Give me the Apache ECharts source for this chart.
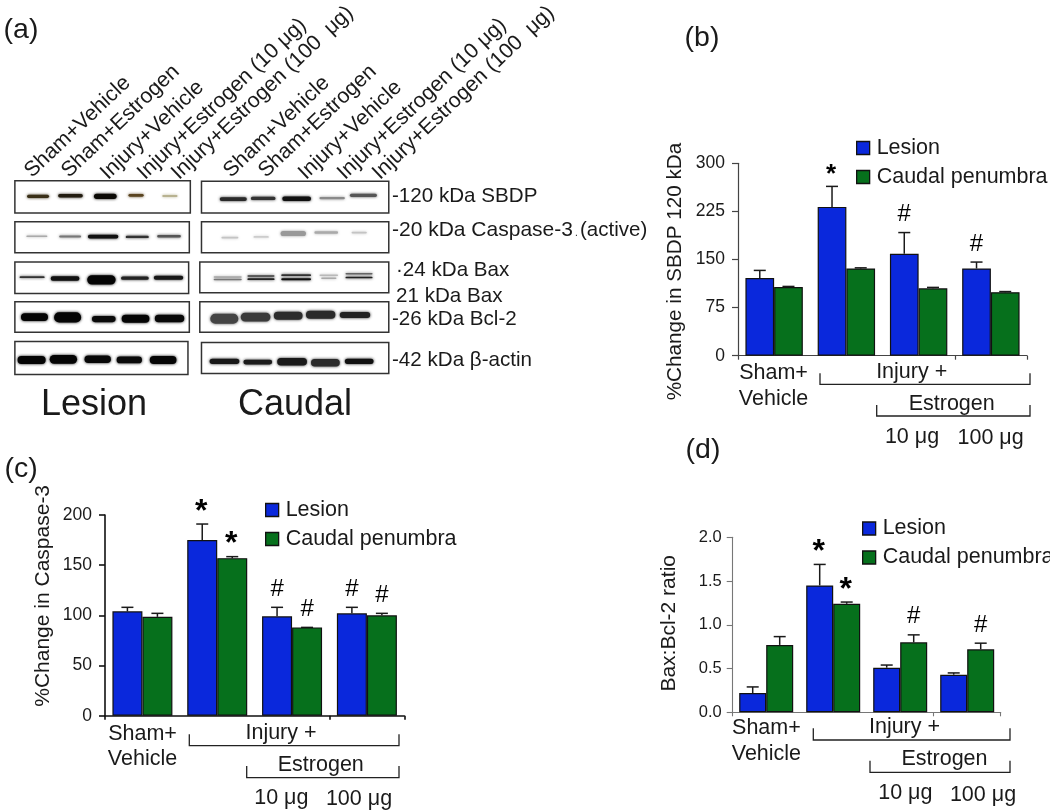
<!DOCTYPE html>
<html><head><meta charset="utf-8">
<script src="https://cdn.jsdelivr.net/npm/echarts@6/dist/echarts.min.js"></script>
<style>html,body{margin:0;background:#fff}#c{width:1050px;height:812px}</style></head>
<body><div id="c"></div>
<script>
const FONT = '"Liberation Sans", Arial, sans-serif';
const seriesNames = ['Lesion', 'Caudal penumbra'];
const groups = ['Sham+Vehicle', 'Injury+Vehicle', 'Injury+Estrogen 10 μg', 'Injury+Estrogen 100 μg'];
const laneLabels = ['Sham+Vehicle', 'Sham+Estrogen', 'Injury+Vehicle', 'Injury+Estrogen (10 μg)', 'Injury+Estrogen (100  μg)'];

// (b) %Change in SBDP 120 kDa
const bLesion = [121, 232, 159, 136];
const bLesionTop = [133, 264, 192, 146];
const bCaudal = [107, 136, 105, 99];
const bCaudalTop = [108, 137, 106.5, 100];
const bLesionMarks = ['', '*', '#', '#'];
const bCaudalMarks = ['', '', '', ''];
// (c) %Change in Caspase-3
const cLesion = [104, 175, 99, 102];
const cLesionTop = [108, 191, 108, 108];
const cCaudal = [98.5, 157, 88, 100];
const cCaudalTop = [102, 158.5, 88, 102];
const cLesionMarks = ['', '*', '#', '#'];
const cCaudalMarks = ['', '*', '#', '#'];
// (d) Bax:Bcl-2 ratio
const dLesion = [0.22, 1.45, 0.51, 0.43];
const dLesionTop = [0.29, 1.69, 0.54, 0.45];
const dCaudal = [0.77, 1.24, 0.80, 0.72];
const dCaudalTop = [0.865, 1.26, 0.885, 0.79];
const dLesionMarks = ['', '*', '', ''];
const dCaudalMarks = ['', '*', '#', '#'];

const BLUE = '#0a28dc', GREEN = '#06701c', INK = '#1a1a1a';

const panels = [
  {grid:{left:738, top:163.3, width:289, height:192.4}, max:300, interval:75, title:'%Change in SBDP 120 kDa', titleSize:20.7, nameGap:52, namePad:[0,24,0,0], tick:17.5, margin:13, barW:28.7, starSize:26,
   le:bLesion, leT:bLesionTop, ca:bCaudal, caT:bCaudalTop, leM:bLesionMarks, caM:bCaudalMarks, legend:[856,137], axis:'#444', axisW:1.2},
  {grid:{left:105, top:515, width:299.3, height:200.7}, max:200, interval:50, title:'%Change in Caspase-3', titleSize:21, nameGap:51, namePad:[0,0,0,39], tick:17.5, margin:13, barW:30, starSize:32,
   le:cLesion, leT:cLesionTop, ca:cCaudal, caT:cCaudalTop, leM:cLesionMarks, caM:cCaudalMarks, legend:[265,499], axis:'#111', axisW:1.6},
  {grid:{left:732.7, top:537.3, width:268, height:175}, max:2, interval:0.5, title:'Bax:Bcl-2 ratio', titleSize:21, nameGap:53, namePad:[0,0,0,3], tick:16.5, margin:11, barW:27, starSize:32, fmt:v=>v.toFixed(1),
   le:dLesion, leT:dLesionTop, ca:dCaudal, caT:dCaudalTop, leM:dLesionMarks, caM:dCaudalMarks, legend:[862,517.5], axis:'#777', axisW:1.1}
];

function errSeries(p, i, values, tops, marks, dir, name) {
  return {
    type:'custom', name, xAxisIndex:i, yAxisIndex:i, z:3, silent:true,
    encode:{x:0, y:2},
    data: values.map((v, k) => [k, v, tops[k], marks[k]]),
    renderItem(params, api) {
      const k = api.value(0);
      const base = api.coord([k, api.value(1)]);
      const top = api.coord([k, api.value(2)]);
      const x = base[0] + dir * p.barW / 2;
      const kids = [];
      if (top[1] < base[1] - 0.5) {
        kids.push({type:'line', shape:{x1:x, y1:base[1], x2:x, y2:top[1]}, style:{stroke:INK, lineWidth:1.5}});
      }
      kids.push({type:'line', shape:{x1:x-6, y1:top[1], x2:x+6, y2:top[1]}, style:{stroke:INK, lineWidth:1.5}});
      const m = marks[k];
      if (m) {
        const star = m === '*';
        kids.push({type:'text', style:{text:m, x: star ? x-1 : x, y: top[1] - (star ? 12 : 18),
          textAlign:'center', textVerticalAlign:'middle', fill:'#000',
          font: star ? `bold ${p.starSize}px ${FONT}` : `24px ${FONT}`}});
      }
      return {type:'group', children:kids};
    }
  };
}

const series = [], grids = [], xAxes = [], yAxes = [], legends = [];
panels.forEach((p, i) => {
  grids.push(p.grid);
  xAxes.push({type:'category', gridIndex:i, data:groups, axisLabel:{show:false},
    axisLine:{lineStyle:{color:p.axis, width:p.axisW}}, axisTick:{show:true, length:4, lineStyle:{color:p.axis, width:p.axisW}}});
  yAxes.push({type:'value', gridIndex:i, min:0, max:p.max, interval:p.interval, splitLine:{show:false},
    name:p.title, nameLocation:'middle', nameGap:p.nameGap, nameRotate:90,
    nameTextStyle:{fontFamily:FONT, fontSize:p.titleSize, color:INK, padding:p.namePad},
    axisLine:{show:true, lineStyle:{color:p.axis, width:p.axisW}},
    axisTick:{show:true, length:6, lineStyle:{color:p.axis, width:p.axisW}},
    axisLabel:{fontFamily:FONT, fontSize:p.tick, color:INK, margin:p.margin, formatter:p.fmt || (v=>String(v))}});
  const barStyle = c => ({color:c, borderColor:'#111', borderWidth:1.2});
  series.push({type:'bar', name:seriesNames[0], xAxisIndex:i, yAxisIndex:i, data:p.le, barWidth:p.barW, barGap:0, itemStyle:barStyle(BLUE), z:4, silent:true});
  series.push({type:'bar', name:seriesNames[1], xAxisIndex:i, yAxisIndex:i, data:p.ca, barWidth:p.barW, barGap:0, itemStyle:barStyle(GREEN), z:4, silent:true});
  series.push(errSeries(p, i, p.le, p.leT, p.leM, -1, 'err-l' + i));
  series.push(errSeries(p, i, p.ca, p.caT, p.caM, 1, 'err-c' + i));
  legends.push({orient:'vertical', left:p.legend[0], top:p.legend[1], padding:0, itemWidth:13, itemHeight:13, itemGap:7,
    selectedMode:false, data:seriesNames, icon:'rect', itemStyle:{borderColor:'#111', borderWidth:1.3},
    textStyle:{fontFamily:FONT, fontSize:21.5, color:INK, lineHeight:22, padding:[0,0,0,2]}});
});

// ---- decoration: text, brackets, blot picture ----
const g = [];
const txt = (text, x, y, size, extra) => g.push({type:'text', x, y, silent:true, ...(extra||{}),
  style:{text, fontFamily:FONT, fontSize:size, fill:INK, textAlign:'center', textVerticalAlign:'middle', ...((extra&&extra.style)||{})}});
const bracket = (x1, x2, y1, y2) => g.push({type:'polyline', silent:true,
  shape:{points:[[x1,y1],[x1,y2],[x2,y2],[x2,y1]]}, style:{stroke:'#222', lineWidth:1.3, fill:null}});

txt('(a)', 21, 30, 28.5); txt('(b)', 702, 38, 28.5); txt('(c)', 21, 469, 28.5); txt('(d)', 703, 450, 28.5);

[[773.5,373,398.7, 911.7,371.7, 820,1030,373.3,384.3, 951.7,404, 876.7,405,416, 912,436.7, 990.6,438.3],
 [142.5,734.3,759.3, 281,732.7, 189.3,399,734.3,745.7, 320.8,765, 246.7,766,777.7, 281.3,797.7, 359,799.3],
 [766.4,728.3,754.3, 904.5,727.3, 813.3,1010,728.3,740, 944.5,759.3, 870,760.7,772.3, 905.3,793.3, 983,795]
].forEach(a => {
  txt('Sham+', a[0], a[1], 21.5); txt('Vehicle', a[0], a[2], 21.5);
  txt('Injury +', a[3], a[4], 21.5);
  bracket(a[5], a[6], a[7], a[8]);
  txt('Estrogen', a[9], a[10], 21.5);
  bracket(a[11], a[6], a[12], a[13]);
  txt('10 μg', a[14], a[15], 21.5); txt('100 μg', a[16], a[17], 21.5);
});

// lane labels
[[28,174],[65,174],[104,176],[141,176],[175,176],[227,174],[262,174],[302,176],[341,176],[376,176]].forEach((p, i) => {
  g.push({type:'text', x:p[0], y:p[1], rotation:Math.PI*43.5/180, silent:true,
    style:{text:laneLabels[i%5], fontFamily:FONT, fontSize:21.3, fill:INK, textAlign:'left', textVerticalAlign:'middle'}});
});

// blot frames: crop coordinates of the reference panel
const SC = 2.958;
const Z = (x, y) => [x/SC, 170 + y/SC];
[[44,563,32,127],[596,1150,33,127],[44,560,153,245],[596,1150,153,245],[44,558,272,365],[591,1150,272,363],
 [44,560,390,480],[591,1150,390,480],[44,556,507,605],[596,1150,510,602]].forEach(f => {
  const a = Z(f[0], f[2]), b = Z(f[1], f[3]);
  g.push({type:'rect', silent:true, shape:{x:a[0], y:a[1], width:b[0]-a[0], height:b[1]-a[1]}, style:{fill:'#fff', stroke:'#333', lineWidth:1.5}, z:1});
});
// bands: x1, x2, yc, thickness, colour
const bands = [
 [80,145,78,9,'#3a3018'],[172,245,76,10,'#221c10'],[278,345,78,16,'#0c0a06'],[380,425,75,8,'#5a4420'],[480,525,77,6,'#b8b290'],
 [650,730,86,11,'#2a2a2a'],[742,815,84,10,'#333'],[835,920,85,13,'#111'],[945,1020,83,7,'#8a8a8a'],[1035,1115,75,9,'#555'],
 [78,140,196,5,'#aaa'],[175,240,197,6,'#777'],[260,350,197,11,'#111'],[372,440,198,7,'#333'],[465,535,196,7,'#555'],
 [655,705,200,5,'#c4c4c4'],[750,795,198,5,'#ccc'],[830,905,188,15,'#999'],[930,1000,185,7,'#aaa'],[1040,1085,185,5,'#c4c4c4'],
 [58,132,317,5,'#333'],[150,235,321,13,'#111'],[258,342,325,28,'#050505'],[358,440,320,10,'#222'],[455,542,319,12,'#181818'],
 [632,715,316,3,'#aaa'],[632,715,323,3,'#777'],[732,812,313,4,'#444'],[732,812,323,5,'#222'],[832,920,311,5,'#333'],[832,920,323,6,'#111'],
 [945,1000,311,4,'#bbb'],[950,995,320,4,'#aaa'],[1022,1102,306,3,'#666'],[1022,1102,318,5,'#222'],
 [62,142,435,23,'#050505'],[160,240,436,30,'#050505'],[272,342,441,18,'#0a0a0a'],[360,442,440,24,'#050505'],[458,545,439,22,'#080808'],
 [622,705,440,30,'#444'],[712,800,435,26,'#3a3a3a'],[810,895,431,24,'#2c2c2c'],[905,992,428,24,'#2a2a2a'],[1005,1095,429,18,'#222'],
 [52,135,562,23,'#050505'],[147,228,560,26,'#050505'],[250,328,560,22,'#080808'],[345,420,562,20,'#0a0a0a'],[443,522,562,24,'#050505'],
 [620,708,566,16,'#181818'],[720,805,568,14,'#1c1c1c'],[820,908,567,22,'#1a1a1a'],[920,1005,570,22,'#2a2a2a'],[1020,1105,566,15,'#111']
];
bands.forEach(b => {
  const a = Z(b[0], b[2] - b[3]/2), e = Z(b[1], b[2] + b[3]/2);
  const h = Math.max(e[1]-a[1], 1.5);
  g.push({type:'rect', silent:true, z:2, shape:{x:a[0], y:a[1], width:e[0]-a[0], height:h, r:h/2},
    style:{fill:b[4], shadowBlur:3, shadowColor:b[4]}});
});

const L = 392;
const lab = (t, x, y, s) => txt(t, x, y, s, {style:{textAlign:'left'}});
lab('-120 kDa SBDP', L, 196.4, 20.6);
lab('-20 kDa Caspase-3', L, 230, 21);
lab('.', 575, 233, 10);
lab('(active)', 580, 230, 20.5);
lab('·24 kDa Bax', L+4, 270.7, 20.6);
lab('21 kDa Bax', 396, 296.8, 20.6);
lab('-26 kDa Bcl-2', L, 319.4, 20.6);
lab('-42 kDa β-actin', L, 360.3, 20.6);
txt('Lesion', 94, 405, 36);
txt('Caudal', 295, 405, 36);

const chart = echarts.init(document.getElementById('c'), null, {renderer:'canvas'});
chart.setOption({animation:false, backgroundColor:'#fff', textStyle:{fontFamily:FONT}, tooltip:{show:false},
  grid:grids, xAxis:xAxes, yAxis:yAxes, legend:legends, series, graphic:{elements:g}});
</script></body></html>
